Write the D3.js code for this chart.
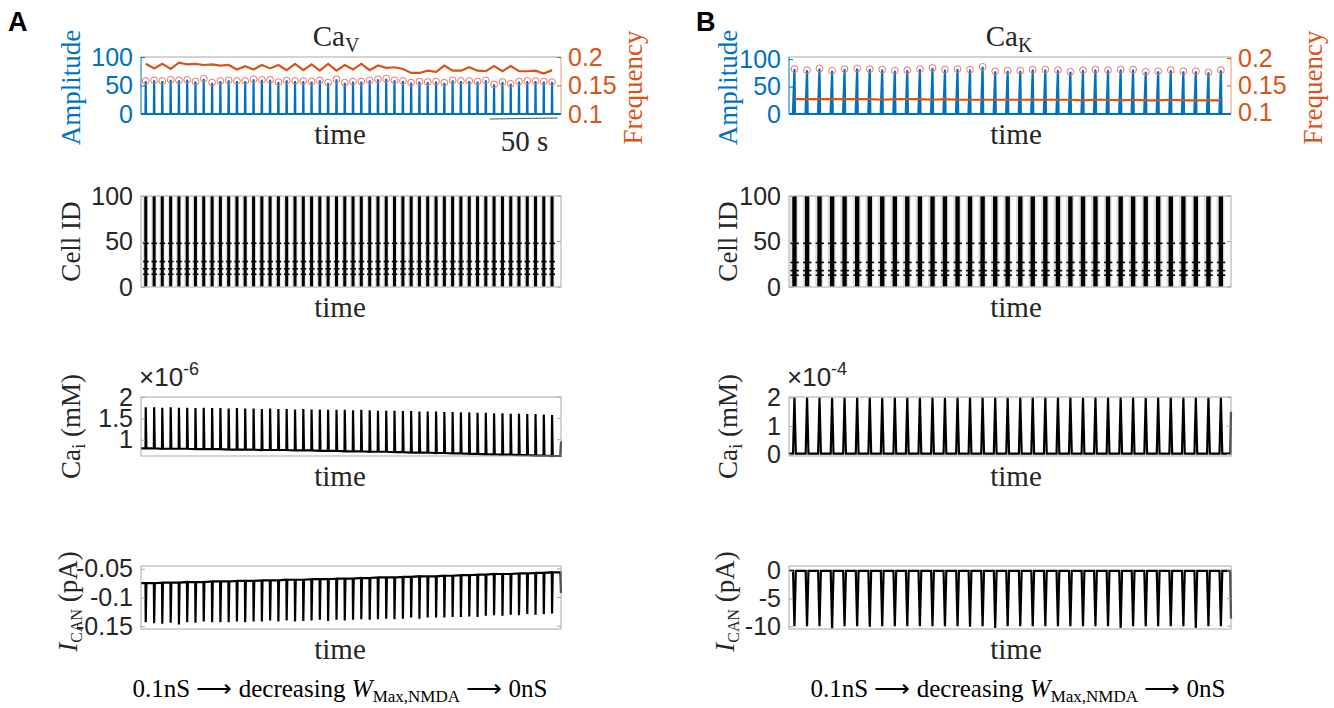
<!DOCTYPE html>
<html>
<head>
<meta charset="utf-8">
<script src="https://cdn.jsdelivr.net/npm/d3@7"></script>
<style>
  body { margin: 0; background: #fff; }
  svg { display: block; }
</style>
</head>
<body>
<svg id="fig" width="1334" height="708"></svg>
<script>
// ---------------- data ----------------
// panel A : CaV, 50 bursts
const timeMaxA = 310
const burstTimesA = [3.5, 9.7, 15.7, 21.9, 28.0, 34.1, 40.2, 46.3, 52.5, 58.6,
  64.7, 70.8, 76.9, 83.1, 89.2, 95.3, 101.4, 107.5, 113.7, 119.8,
  125.9, 132.0, 138.1, 144.3, 150.4, 156.5, 162.6, 168.8, 174.9, 181.0,
  187.1, 193.3, 199.4, 205.5, 211.6, 217.8, 223.9, 230.0, 236.1, 242.3,
  248.4, 254.5, 260.6, 266.8, 272.9, 279.0, 285.1, 291.2, 297.3, 303.4]
const amplitudeA = [58, 59, 58, 60, 59, 60, 57, 62, 55, 58,
  59, 58, 58, 61, 60, 60, 56, 59, 58, 58,
  57, 59, 55, 61, 55, 57, 57, 59, 61, 62,
  59, 58, 55, 57, 56, 57, 55, 59, 58, 58,
  57, 59, 52, 56, 53, 57, 58, 58, 57, 56]
const frequencyA = [0.188, 0.180, 0.188, 0.179, 0.190, 0.187, 0.188, 0.186, 0.187, 0.185,
  0.186, 0.178, 0.184, 0.178, 0.186, 0.180, 0.186, 0.177, 0.188, 0.177,
  0.187, 0.176, 0.188, 0.176, 0.186, 0.178, 0.188, 0.177, 0.185, 0.181,
  0.182, 0.179, 0.172, 0.172, 0.176, 0.174, 0.185, 0.176, 0.176, 0.182,
  0.176, 0.175, 0.184, 0.175, 0.184, 0.175, 0.175, 0.176, 0.171, 0.177]
const caPeakA = [1.76, 1.76, 1.75, 1.76, 1.75, 1.75, 1.74, 1.75, 1.74, 1.74,
  1.73, 1.74, 1.73, 1.73, 1.72, 1.73, 1.72, 1.72, 1.71, 1.72,
  1.71, 1.71, 1.70, 1.70, 1.70, 1.69, 1.70, 1.69, 1.68, 1.68,
  1.68, 1.67, 1.67, 1.66, 1.66, 1.66, 1.65, 1.65, 1.64, 1.64,
  1.63, 1.63, 1.62, 1.62, 1.61, 1.61, 1.60, 1.60, 1.59, 1.58]
const caBaseA = [0.80, 0.80, 0.79, 0.79, 0.79, 0.79, 0.78, 0.78, 0.78, 0.78,
  0.77, 0.77, 0.77, 0.77, 0.76, 0.76, 0.76, 0.76, 0.75, 0.75,
  0.75, 0.74, 0.74, 0.74, 0.73, 0.73, 0.73, 0.72, 0.72, 0.72,
  0.71, 0.71, 0.70, 0.70, 0.70, 0.69, 0.69, 0.68, 0.68, 0.67,
  0.67, 0.66, 0.66, 0.65, 0.65, 0.64, 0.64, 0.63, 0.63, 0.62]
const caEndA = 0.96
const icanBaseA = [-0.075, -0.075, -0.074, -0.074, -0.074, -0.073, -0.073, -0.073, -0.072, -0.072,
  -0.072, -0.071, -0.071, -0.071, -0.070, -0.070, -0.070, -0.069, -0.069, -0.069,
  -0.068, -0.068, -0.068, -0.067, -0.067, -0.067, -0.066, -0.066, -0.065, -0.065,
  -0.065, -0.064, -0.064, -0.063, -0.063, -0.063, -0.062, -0.062, -0.061, -0.061,
  -0.060, -0.060, -0.059, -0.059, -0.059, -0.058, -0.058, -0.057, -0.057, -0.056]
const icanTroughA = [-0.143, -0.145, -0.146, -0.144, -0.147, -0.143, -0.144, -0.142, -0.143, -0.143,
  -0.143, -0.142, -0.143, -0.142, -0.142, -0.140, -0.142, -0.140, -0.142, -0.141,
  -0.140, -0.139, -0.141, -0.139, -0.140, -0.139, -0.138, -0.139, -0.138, -0.137,
  -0.138, -0.137, -0.135, -0.137, -0.135, -0.135, -0.135, -0.134, -0.134, -0.133,
  -0.134, -0.132, -0.131, -0.132, -0.130, -0.131, -0.129, -0.130, -0.129, -0.128]
const icanEndA = -0.092
const tonicCellsA = [14, 20, 28, 48]
const burstWidthA = 2.2

// panel B : CaK, 35 bursts
const timeMaxB = 284
const burstTimesB = [3.5, 11.6, 19.6, 27.7, 35.7, 43.8, 51.9, 59.9, 68.0, 76.0,
  84.1, 92.2, 100.2, 108.3, 116.3, 124.4, 132.5, 140.5, 148.6, 156.6,
  164.7, 172.8, 180.8, 188.9, 196.9, 205.0, 213.1, 221.1, 229.2, 237.2,
  245.3, 253.4, 261.4, 269.5, 277.5]
const amplitudeB = [82, 80, 83, 79, 82, 83, 82, 81, 79, 80,
  82, 84, 81, 82, 81, 86, 78, 79, 79, 81,
  81, 80, 77, 80, 81, 80, 81, 81, 77, 78,
  80, 78, 78, 76, 80]
const frequencyB = [0.125, 0.125, 0.125, 0.125, 0.125, 0.125, 0.125, 0.124, 0.125, 0.125,
  0.125, 0.124, 0.125, 0.124, 0.124, 0.124, 0.124, 0.124, 0.124, 0.124,
  0.124, 0.124, 0.124, 0.123, 0.124, 0.124, 0.123, 0.124, 0.123, 0.123,
  0.124, 0.123, 0.123, 0.123, 0.123]
const caPeakB = [2.0, 2.0, 2.0, 1.99, 2.0, 2.0, 2.0, 1.99, 2.0, 2.0,
  2.0, 2.0, 1.99, 2.0, 2.0, 2.0, 2.0, 1.99, 2.0, 2.0,
  2.0, 2.0, 2.0, 1.99, 2.0, 2.0, 2.0, 2.0, 1.99, 2.0,
  2.0, 2.0, 2.0, 2.0, 2.0]
const caBaseB = 0.03
const caEndB = 1.5
const icanTroughB = [-10.0, -10.0, -10.0, -10.4, -10.0, -10.0, -10.1, -10.0, -10.0, -10.0,
  -10.0, -10.0, -10.0, -10.0, -10.1, -10.0, -10.3, -10.0, -10.0, -10.0,
  -10.0, -10.0, -10.0, -10.0, -10.0, -10.0, -10.3, -10.0, -10.0, -10.0,
  -10.0, -10.0, -10.3, -10.0, -10.0]
const icanBaseB = 0
const icanEndB = -8.6
const tonicCellsB = [13, 18, 27, 48]
const burstWidthB = 2.8

// ticks
const ampTicks = [0, 50, 100]
const freqTicks = [0.1, 0.15, 0.2]
const cellTicks = [0, 50, 100]
const caTicksA = [1, 1.5, 2]
const icanTicksA = [-0.15, -0.1, -0.05]
const caTicksB = [0, 1, 2]
const icanTicksB = [-10, -5, 0]

// ---------------- styling ----------------
const BLUE = '#0072BD'
const ORANGE = '#D95319'
const RED = '#f26d6d'
const GRID = '#a8a8a8'
const SANS = 'Liberation Sans, Arial, sans-serif'
const SERIF = 'Liberation Serif, Times New Roman, serif'

const rows = {
  top: [57, 114],
  raster: [196, 287],
  ca: [397, 456],
  ican: [566, 629]
}
const cols = {
  A: { x0: 141, x1: 561, label: 80, right: 642, letter: 8, mid: 340, title: 336, caption: 340 },
  B: { x0: 789, x1: 1231, label: 737, right: 1322, letter: 696, mid: 1016, title: 1009, caption: 1018 }
}

const svg = d3.select('#fig')

function yAxis(g, y, ticks, x, side, color) {
  let ax = (side === 'left' ? d3.axisLeft(y) : d3.axisRight(y))
    .tickValues(ticks)
    .tickSize(-4)
    .tickPadding(side === 'left' ? 8 : 7)
    .tickFormat(d => String(d))
  let a = g.append('g').attr('transform', `translate(${x},0)`).call(ax)
  a.select('.domain').remove()
  a.selectAll('line').attr('stroke', color || GRID)
  a.selectAll('text')
    .attr('font-family', SANS)
    .attr('font-size', 25)
    .attr('fill', color || '#262626')
  return a
}

function box(g, c, r) {
  g.append('rect')
    .attr('x', c.x0).attr('y', r[0])
    .attr('width', c.x1 - c.x0).attr('height', r[1] - r[0])
    .attr('fill', 'none').attr('stroke', GRID).attr('stroke-width', 1)
}

function rightTicks(g, y, ticks, c, color) {
  g.selectAll(null).data(ticks).enter().append('line')
    .attr('x1', c.x1).attr('x2', c.x1 - 4)
    .attr('y1', d => y(d)).attr('y2', d => y(d))
    .attr('stroke', color || GRID)
}

function xlabel(g, c, r, txt) {
  g.append('text')
    .attr('x', c.mid).attr('y', r[1] + 30)
    .attr('text-anchor', 'middle')
    .attr('font-family', SERIF).attr('font-size', 29).attr('fill', '#262626')
    .text(txt)
}

function ylabel(g, x, cy, color) {
  return g.append('text')
    .attr('transform', `translate(${x},${cy}) rotate(-90)`)
    .attr('text-anchor', 'middle')
    .attr('font-family', SERIF).attr('font-size', 27)
    .attr('fill', color || '#262626')
}

// ---------------- one column ----------------
function drawColumn(key, d) {
  let c = cols[key]
  let g = svg.append('g')
  let x = d3.scaleLinear().domain([0, d.timeMax]).range([c.x0, c.x1])

  // panel letter
  g.append('text').attr('x', c.letter).attr('y', 31)
    .attr('font-family', SANS).attr('font-weight', 'bold').attr('font-size', 27)
    .attr('fill', '#000').text(key)

  // ---- top: amplitude / frequency
  let r = rows.top
  let yAmp = d3.scaleLinear().domain(d.ampDomain).range([r[1], r[0]])
  let yFreq = d3.scaleLinear().domain(d.freqDomain).range([r[1], r[0]])
  g.append('line').attr('x1', c.x0).attr('x2', c.x1).attr('y1', r[0]).attr('y2', r[0]).attr('stroke', GRID)
  g.append('line').attr('x1', c.x0).attr('x2', c.x0).attr('y1', r[0]).attr('y2', r[1]).attr('stroke', BLUE)
  g.append('line').attr('x1', c.x1).attr('x2', c.x1).attr('y1', r[0]).attr('y2', r[1]).attr('stroke', ORANGE).attr('stroke-opacity', 0.6)
  yAxis(g, yAmp, ampTicks, c.x0, 'left', BLUE)
  yAxis(g, yFreq, freqTicks, c.x1, 'right', ORANGE)

  // blue amplitude trace: flat baseline with a spike per burst
  let ampPts = [[0, 0]]
  d.times.forEach((t, i) => {
    ampPts.push([t - d.riseAmp, 0], [t, d.amp[i]], [t + d.fallAmp, 0])
  })
  ampPts.push([d.timeMax, 0])
  g.append('path')
    .attr('d', d3.line().x(p => x(p[0])).y(p => yAmp(p[1]))(ampPts))
    .attr('fill', 'none').attr('stroke', BLUE).attr('stroke-width', 2.2)

  g.selectAll(null).data(d.times).enter().append('circle')
    .attr('cx', t => x(t)).attr('cy', (t, i) => yAmp(d.amp[i]))
    .attr('r', 3.4).attr('fill', 'none').attr('stroke', RED).attr('stroke-width', 1)

  g.append('path')
    .attr('d', d3.line().x((t, i) => x(t)).y((t, i) => yFreq(d.freq[i]))(d.times))
    .attr('fill', 'none').attr('stroke', ORANGE).attr('stroke-width', 2.2)

  g.append('text').attr('x', c.title).attr('y', 46)
    .attr('text-anchor', 'middle').attr('font-family', SERIF).attr('font-size', 29).attr('fill', '#262626')
    .call(t => {
      t.append('tspan').text('Ca')
      t.append('tspan').attr('font-size', 20).attr('dy', 6).text(d.sub)
    })
  xlabel(g, c, r, 'time')
  ylabel(g, c.label, (r[0] + r[1]) / 2 + 2, BLUE).text('Amplitude')
  ylabel(g, c.right, (r[0] + r[1]) / 2 + 2, ORANGE).text('Frequency')

  // ---- raster
  r = rows.raster
  let yCell = d3.scaleLinear().domain([0, 100]).range([r[1], r[0]])
  g.selectAll(null).data(d.times).enter().append('rect')
    .attr('x', t => x(t - d.burstWidth))
    .attr('width', x(1.8 * d.burstWidth) - x(0))
    .attr('y', yCell(100)).attr('height', yCell(0.5) - yCell(100))
    .attr('fill', '#000').attr('opacity', 0.12)
  g.selectAll(null).data(d.times).enter().append('rect')
    .attr('x', t => x(t - d.burstWidth / 2))
    .attr('width', x(d.burstWidth) - x(0))
    .attr('y', yCell(100)).attr('height', yCell(0.5) - yCell(100))
    .attr('fill', '#000')
  let tonic = []
  d.times.forEach(t => d.tonic.forEach(cell => tonic.push([t, cell])))
  g.selectAll(null).data(tonic).enter().append('rect')
    .attr('x', p => x(p[0] - 0.9 * d.burstWidth))
    .attr('width', x(1.9 * d.burstWidth) - x(0))
    .attr('y', p => yCell(p[1]) - 0.8).attr('height', 1.6)
    .attr('fill', '#000')
  box(g, c, r)
  yAxis(g, yCell, cellTicks, c.x0, 'left')
  rightTicks(g, yCell, cellTicks, c)
  xlabel(g, c, r, 'time')
  ylabel(g, c.label, (r[0] + r[1]) / 2, '#262626').text('Cell ID')

  // ---- intracellular calcium
  r = rows.ca
  let yCa = d3.scaleLinear().domain(d.caDomain).range([r[1], r[0]])
  let caPts = [[0, d.caBase(0)]]
  d.times.forEach((t, i) => {
    caPts.push([t - d.riseCa, d.caBase(i)], [t, d.caPeak[i]], [t + d.fallCa, d.caBase(i)])
  })
  caPts.push([d.timeMax - 0.4, d.caBase(d.times.length - 1)], [d.timeMax, d.caEnd])
  g.append('path')
    .attr('d', d3.line().x(p => x(p[0])).y(p => yCa(p[1]))(caPts))
    .attr('fill', 'none').attr('stroke', '#000').attr('stroke-width', 2.2)
  box(g, c, r)
  yAxis(g, yCa, d.caTicks, c.x0, 'left')
  rightTicks(g, yCa, d.caTicks, c)
  g.append('text').attr('x', c.x0 - 2).attr('y', r[0] - 11)
    .attr('font-family', SANS).attr('font-size', 26).attr('fill', '#262626')
    .call(t => {
      t.append('tspan').text('×10')
      t.append('tspan').attr('font-size', 18).attr('dy', -11).text(d.caExp)
    })
  xlabel(g, c, r, 'time')
  ylabel(g, c.label, (r[0] + r[1]) / 2, '#262626').call(t => {
    t.append('tspan').text('Ca')
    t.append('tspan').attr('font-size', 19).attr('dy', 5).text('i')
    t.append('tspan').attr('dy', -5).text(' (mM)')
  })

  // ---- I_CAN
  r = rows.ican
  let yI = d3.scaleLinear().domain(d.icanDomain).range([r[1], r[0]])
  let iPts = [[0, d.icanBase(0)]]
  d.times.forEach((t, i) => {
    iPts.push([t - d.riseI, d.icanBase(i)], [t, d.icanTrough[i]], [t + d.fallI, d.icanBase(i)])
  })
  iPts.push([d.timeMax - 0.4, d.icanBase(d.times.length - 1)], [d.timeMax, d.icanEnd])
  g.append('path')
    .attr('d', d3.line().x(p => x(p[0])).y(p => yI(p[1]))(iPts))
    .attr('fill', 'none').attr('stroke', '#000').attr('stroke-width', 2.2)
  box(g, c, r)
  yAxis(g, yI, d.icanTicks, c.x0, 'left')
  rightTicks(g, yI, d.icanTicks, c)
  xlabel(g, c, r, 'time')
  ylabel(g, c.label - 3, (r[0] + r[1]) / 2 + 4, '#262626').call(t => {
    t.append('tspan').attr('font-style', 'italic').text('I')
    t.append('tspan').attr('font-size', 16).attr('dy', 5).text('CAN')
    t.append('tspan').attr('dy', -5).text(' (pA)')
  })

  // bottom caption
  g.append('text').attr('x', c.caption).attr('y', 697)
    .attr('text-anchor', 'middle').attr('font-family', SERIF).attr('font-size', 25).attr('fill', '#000')
    .call(t => {
      t.append('tspan').text('0.1nS ⟶ decreasing ')
      t.append('tspan').attr('font-style', 'italic').text('W')
      t.append('tspan').attr('font-size', 17).attr('dy', 5).text('Max,NMDA')
      t.append('tspan').attr('dy', -5).text(' ⟶ 0nS')
    })
  return x
}

let xA = drawColumn('A', {
  timeMax: timeMaxA, times: burstTimesA, amp: amplitudeA, freq: frequencyA, sub: 'V',
  ampDomain: [0, 100], freqDomain: [0.1, 0.2], riseAmp: 0.2, fallAmp: 0.2,
  tonic: tonicCellsA, burstWidth: burstWidthA,
  caDomain: [0.62, 2], caPeak: caPeakA, caBase: i => caBaseA[i], caEnd: caEndA,
  caTicks: caTicksA, caExp: '-6', riseCa: 0.2, fallCa: 0.5,
  icanDomain: [-0.155, -0.045], icanTrough: icanTroughA, icanBase: i => icanBaseA[i],
  icanEnd: icanEndA, icanTicks: icanTicksA, riseI: 0.2, fallI: 0.5
})

drawColumn('B', {
  timeMax: timeMaxB, times: burstTimesB, amp: amplitudeB, freq: frequencyB, sub: 'K',
  ampDomain: [0, 104], freqDomain: [0.098, 0.202], riseAmp: 1.0, fallAmp: 0.4,
  tonic: tonicCellsB, burstWidth: burstWidthB,
  caDomain: [-0.05, 2.02], caPeak: caPeakB, caBase: i => caBaseB, caEnd: caEndB,
  caTicks: caTicksB, caExp: '-4', riseCa: 0.9, fallCa: 0.9,
  icanDomain: [-10.5, 0.9], icanTrough: icanTroughB, icanBase: i => icanBaseB,
  icanEnd: icanEndB, icanTicks: icanTicksB, riseI: 0.9, fallI: 0.9
})

// 50 s scale bar under the top-left panel
svg.append('line')
  .attr('x1', xA(timeMaxA - 52.5)).attr('x2', xA(timeMaxA - 2.5))
  .attr('y1', rows.top[1] + 5).attr('y2', rows.top[1] + 4)
  .attr('stroke', '#555').attr('stroke-width', 1)
svg.append('text')
  .attr('x', xA(timeMaxA - 27)).attr('y', rows.top[1] + 37)
  .attr('text-anchor', 'middle').attr('font-family', SERIF).attr('font-size', 29).attr('fill', '#262626')
  .text('50 s')
</script>
</body>
</html>
